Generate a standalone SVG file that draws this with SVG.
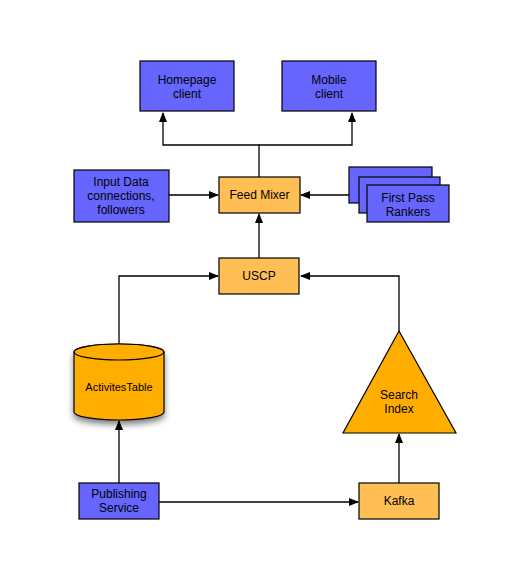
<svg xmlns="http://www.w3.org/2000/svg" width="518" height="580" viewBox="0 0 518 580">
<defs>
<style>
.b{fill:#6666FF;stroke:#000;stroke-width:1.2}
.o{fill:#FFBF55;stroke:#000;stroke-width:1.2}
.y{fill:#FFAE00;stroke:#000;stroke-width:1.2}
.t{font-family:"Liberation Sans",Arial,sans-serif;font-size:12px;fill:#000;text-anchor:middle}
.c{fill:none;stroke:#000;stroke-width:1.3}
</style>
<marker id="a" markerWidth="10" markerHeight="8" refX="9" refY="4" orient="auto" markerUnits="userSpaceOnUse">
<path d="M0,0 L10,4 L0,8 Z" fill="#000"/>
</marker>
<filter id="sh" x="-20%" y="-20%" width="140%" height="160%">
<feGaussianBlur in="SourceAlpha" stdDeviation="3"/>
<feOffset dx="0" dy="4"/>
<feComponentTransfer><feFuncA type="linear" slope="0.5"/></feComponentTransfer>
<feMerge><feMergeNode/><feMergeNode in="SourceGraphic"/></feMerge>
</filter>
</defs>
<rect width="518" height="580" fill="#fff"/>
<g id="connectors">
<path class="c" d="M259,177 V145 H163 V113" marker-end="url(#a)"/>
<path class="c" d="M259,145 H352 V113" marker-end="url(#a)"/>
<path class="c" d="M169,195 H218" marker-end="url(#a)"/>
<path class="c" d="M349,195 H301" marker-end="url(#a)"/>
<path class="c" d="M259,258 V214" marker-end="url(#a)"/>
<path class="c" d="M119,344 V276 H218" marker-end="url(#a)"/>
<path class="c" d="M399,331 V276 H301" marker-end="url(#a)"/>
<path class="c" d="M119,483 V421" marker-end="url(#a)"/>
<path class="c" d="M399,483 V434" marker-end="url(#a)"/>
<path class="c" d="M159,502 H358" marker-end="url(#a)"/>
</g>
<g id="homepage">
<rect class="b" x="140" y="61" width="94" height="50"/>
<text class="t" x="187" y="84">Homepage</text>
<text class="t" x="187" y="98">client</text>
</g>
<g id="mobile">
<rect class="b" x="282" y="61" width="94" height="50"/>
<text class="t" x="329" y="84">Mobile</text>
<text class="t" x="329" y="98">client</text>
</g>
<g id="input">
<rect class="b" x="74" y="170" width="95" height="52"/>
<text class="t" x="121" y="186">Input Data</text>
<text class="t" x="121" y="200">connections,</text>
<text class="t" x="121" y="214">followers</text>
</g>
<g id="feedmixer">
<rect class="o" x="219" y="177" width="81" height="36"/>
<text class="t" x="259.500" y="199">Feed Mixer</text>
</g>
<g id="rankers">
<rect class="b" x="349" y="167" width="83" height="36"/>
<rect class="b" x="359" y="177" width="81" height="36"/>
<rect class="b" x="367" y="185" width="82" height="37"/>
<text class="t" x="408" y="202">First Pass</text>
<text class="t" x="408" y="216">Rankers</text>
</g>
<g id="uscp">
<rect class="o" x="219" y="258" width="80" height="36"/>
<text class="t" x="259" y="280">USCP</text>
</g>
<g id="activities">
<path class="y" filter="url(#sh)" d="M74,352 V412 A45,8 0 0 0 164,412 V352 A45,8 0 0 0 74,352 Z"/>
<ellipse class="y" cx="119" cy="352" rx="45" ry="8"/>
<text class="t" x="119" y="391" style="font-size:11px">ActivitesTable</text>
</g>
<g id="searchindex">
<path class="y" d="M399,331 L456,433 L343,433 Z"/>
<text class="t" x="399" y="399">Search</text>
<text class="t" x="399" y="413">Index</text>
</g>
<g id="publishing">
<rect class="b" x="79" y="483" width="80" height="36"/>
<text class="t" x="119" y="498">Publishing</text>
<text class="t" x="119" y="512">Service</text>
</g>
<g id="kafka">
<rect class="o" x="359" y="483" width="80" height="36"/>
<text class="t" x="399" y="505">Kafka</text>
</g>
</svg>
